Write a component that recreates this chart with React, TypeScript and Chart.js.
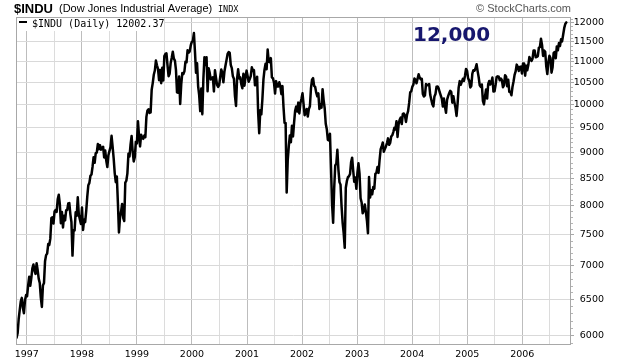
import React, { useEffect, useRef } from "react";
import { Chart, registerables } from "chart.js";

Chart.register(...registerables);

// ---- text ----
const titleSymbol = "$INDU";
const titleName = "(Dow Jones Industrial Average)";
const titleExchange = "INDX";
const legendLabel = "$INDU (Daily) 12002.37";
const copyright = "\u00A9 StockCharts.com";
const annotation = "12,000";

// ---- data: weekly closes (approx.), each year starting at its first week ----
const yearStarts = [
  "1996-10-25", "1997-01-03", "1998-01-02", "1999-01-08", "2000-01-07", "2001-01-05",
  "2002-01-04", "2003-01-03", "2004-01-02", "2005-01-07", "2006-01-06",
];

const w1996 = [5970, 6029, 6220, 6348, 6471, 6522, 6381, 6304, 6484, 6561];
const w1997 = [
  6545, 6704, 6833, 6697, 6813,
  6961, 7022, 6931, 6877,
  7040, 6936, 6805, 6740,
  6526, 6391, 6703, 6738,
  7071, 7169, 7194, 7346, 7331,
  7435, 7782, 7796, 7687,
  7895, 7921, 7890, 8113,
  8194, 8031, 7694, 7887, 7622,
  7822, 7742, 7917, 7922,
  8038, 8045, 7847, 7715, 7161,
  7581, 7572, 7881, 7823,
  8149, 7838, 7757, 7679,
];
const w1998 = [
  7965, 7580, 7753, 7712, 7907,
  8160, 8370, 8413, 8546,
  8570, 8719, 8906, 8796,
  8984, 8994, 9167, 9064,
  9147, 9055, 9096, 9114, 8900,
  9037, 8835, 8712, 8944,
  9025, 9106, 9338, 9116, 8883,
  8598, 8425, 8533, 8052,
  7539, 7795, 7895, 8028,
  7784, 7731, 8416, 8452, 8592,
  8975, 8919, 9160, 9333,
  9016, 8821, 8903, 9217, 9181,
];
const w1999 = [
  9643, 9340, 9120, 9358,
  9304, 9274, 9340, 9307,
  9736, 9876, 9903, 9822,
  9832, 10339, 10493, 10689, 10789,
  11031, 10913, 10829, 10560,
  10799, 10490, 10855, 10552,
  11139, 11193, 11209, 10911, 10655,
  10714, 10973, 11100, 11250,
  11078, 11028, 10803, 10279,
  10273, 10649, 10019, 10470, 10729,
  10704, 10770, 11003, 10988,
  11286, 11224, 11257, 11405, 11497,
];
const w2000 = [
  11522, 11723, 11251, 10739,
  10964, 10425, 10219, 9862,
  10367, 9796, 10596, 11112, 10922,
  11111, 10306, 10844, 10734,
  10578, 10609, 10627, 10300,
  10794, 10614, 10449, 10405, 10448,
  10636, 10813, 10733, 10512,
  10767, 10909, 11047, 11193,
  11238, 11220, 10927, 10847, 10651,
  10596, 10192, 9975, 10590,
  10817, 10603, 10629, 10470,
  10373, 10712, 10434, 10635, 10787,
];
const w2001 = [
  10662, 10525, 10587, 10659,
  10865, 10781, 10799, 10441,
  10466, 10644, 9823, 9389, 9879,
  9791, 10127, 10579, 10810,
  10951, 10821, 11301, 11005,
  10990, 11090, 10623, 10605, 10502,
  10252, 10539, 10416, 10417,
  10512, 10416, 10240, 10423, 9950,
  9606, 9605, 8236, 8848,
  9120, 9345, 9205, 9545,
  9324, 9608, 9867, 9960, 9851,
  10049, 9812, 10035, 10137,
];
const w2002 = [
  10259, 10017, 9772, 9840,
  9908, 9744, 9904, 9968,
  10369, 10572, 10608, 10427, 10404,
  10271, 10191, 10257, 9910,
  10006, 9939, 10353, 10105, 9925,
  9590, 9475, 9254, 9243,
  9380, 8684, 8019, 7702,
  8313, 8745, 8778, 9053, 8664,
  8427, 8380, 7986, 7701,
  7528, 7286, 8322, 8444,
  8518, 8537, 8579, 8805, 8896,
  8646, 8433, 8512, 8303,
];
const w2003 = [
  8601, 8785, 8587, 8131, 8054,
  7864, 7909, 8018, 7891,
  7740, 7524, 8522, 8145,
  8277, 8203, 8337, 8307,
  8582, 8604, 8713, 8601, 8850,
  9062, 9117, 9200, 9011,
  9070, 9119, 9188, 9284,
  9153, 9191, 9321, 9348, 9415,
  9503, 9471, 9644, 9313,
  9572, 9674, 9721, 9582, 9801,
  9810, 9768, 9629, 9782,
  9862, 10042, 10278, 10305,
];
const w2004 = [
  10409, 10458, 10600, 10568, 10488,
  10593, 10700, 10620, 10584,
  10596, 10240, 10186, 10212,
  10470, 10442, 10452, 10472, 10225,
  10117, 10012, 9967, 10188,
  10243, 10410, 10416, 10371,
  10282, 10213, 10140, 9962, 10140,
  9963, 9825, 10110, 10195,
  10260, 10314, 10285, 10048,
  10193, 10055, 9933, 9758, 10027,
  10387, 10539, 10456, 10522,
  10592, 10543, 10661, 10827, 10783,
];
const w2005 = [
  10603, 10558, 10393, 10427,
  10716, 10796, 10785, 10841,
  10940, 10774, 10629, 10442,
  10404, 10461, 10088, 10012, 10193,
  10345, 10140, 10471, 10542,
  10460, 10513, 10623, 10297,
  10303, 10449, 10640, 10651, 10641,
  10558, 10600, 10559, 10397,
  10447, 10678, 10641, 10419, 10569,
  10292, 10287, 10215, 10403,
  10530, 10686, 10766, 10931,
  10878, 10779, 10875, 10884, 10718,
];
const w2006 = [
  10959, 10959, 10667, 10907,
  10794, 10920, 11115, 11061,
  11022, 11076, 11280, 11280, 11109,
  11121, 11137, 11347, 11367,
  11578, 11420, 11144, 11278,
  11247, 10891, 10706, 10990, 11150,
  11091, 10739, 10869, 11219,
  11240, 11088, 11381, 11284,
  11464, 11392, 11560, 11508, 11679,
  11850, 11960, 12002,
];
const weeklyByYear = [w1996, w1997, w1998, w1999, w2000, w2001, w2002, w2003, w2004, w2005, w2006];

// ---- axes ----
const yTicks = [6000, 6500, 7000, 7500, 8000, 8500, 9000, 9500, 10000, 10500, 11000, 11500, 12000];
const xTicks = [
  1997, 1997.5, 1998, 1998.5, 1999, 1999.5, 2000, 2000.5, 2001, 2001.5,
  2002, 2002.5, 2003, 2003.5, 2004, 2004.5, 2005, 2005.5, 2006, 2006.5,
];
const xMin = 1996.804;
const xMax = 2006.885;
const yMin = 5875;
const yMax = 12147;

function toDecimalYear(iso: string, addDays: number): number {
  const [y, m, d] = iso.split("-").map(Number);
  const t = Date.UTC(y, m - 1, d) + addDays * 86400000;
  const yr = new Date(t).getUTCFullYear();
  const s = Date.UTC(yr, 0, 1);
  const e = Date.UTC(yr + 1, 0, 1);
  return yr + (t - s) / (e - s);
}

const points = weeklyByYear.flatMap((arr, k) =>
  arr.map((v, i) => ({ x: toDecimalYear(yearStarts[k], i * 7), y: v }))
);

const decorPlugin = {
  id: "decor",
  beforeDraw(chart: any) {
    const { ctx, width, height } = chart;
    ctx.save();
    ctx.fillStyle = "#ffffff";
    ctx.fillRect(0, 0, width, height);
    ctx.restore();
  },
  afterDraw(chart: any) {
    const { ctx, chartArea: a } = chart;
    const yScale = chart.scales.y;
    ctx.save();
    // minor ticks on the right axis
    ctx.strokeStyle = "#b4b4b4";
    ctx.lineWidth = 1;
    for (let v = 5900; v <= 12100; v += 100) {
      if (v % 500 === 0) continue;
      const py = Math.round(yScale.getPixelForValue(v)) + 0.5;
      if (py < a.top || py > a.bottom) continue;
      ctx.beginPath();
      ctx.moveTo(a.right, py);
      ctx.lineTo(a.right + 2, py);
      ctx.stroke();
    }
    // plot border
    ctx.strokeStyle = "#a8a8a8";
    ctx.strokeRect(a.left + 0.5, a.top + 0.5, a.right - a.left - 1, a.bottom - a.top - 1);

    // legend box
    ctx.fillStyle = "#ffffff";
    ctx.fillRect(a.left + 1, a.top + 1, 147, 13);
    ctx.fillStyle = "#000000";
    ctx.fillRect(19, 21, 8, 2);
    ctx.font = "10px 'DejaVu Sans Mono'";
    ctx.textBaseline = "alphabetic";
    ctx.textAlign = "left";
    ctx.fillText(legendLabel, 32, 26.5);

    // title
    ctx.font = "bold 13px 'Liberation Sans'";
    ctx.fillText(titleSymbol, 14, 12.5);
    ctx.font = "11px 'Liberation Sans'";
    ctx.fillText(titleName, 59, 12);
    ctx.font = "8.5px 'DejaVu Sans Mono'";
    ctx.fillText(titleExchange, 218, 11.5);

    // copyright
    ctx.fillStyle = "#555555";
    ctx.font = "11px 'Liberation Sans'";
    ctx.textAlign = "right";
    ctx.fillText(copyright, 571, 11.5);

    // annotation
    ctx.fillStyle = "#17176e";
    ctx.font = "bold 20px 'DejaVu Sans'";
    ctx.textAlign = "left";
    ctx.fillText(annotation, 413, 41);
    ctx.restore();
  },
};

export default function App() {
  const canvasRef = useRef<HTMLCanvasElement | null>(null);

  useEffect(() => {
    const canvas = canvasRef.current;
    if (!canvas) return;
    const chart = new Chart(canvas, {
      type: "line",
      data: {
        datasets: [
          {
            label: legendLabel,
            data: points,
            borderColor: "#000000",
            borderWidth: 2.5,
            borderJoinStyle: "round",
            borderCapStyle: "round",
            pointRadius: 0,
            tension: 0,
            fill: false,
          },
        ],
      },
      options: {
        animation: false,
        responsive: false,
        parsing: false,
        layout: { padding: { left: 16, top: 17, right: 16, bottom: 0 } },
        plugins: {
          legend: { display: false },
          tooltip: { enabled: false },
          title: { display: false },
        },
        scales: {
          x: {
            type: "linear",
            min: xMin,
            max: xMax,
            afterBuildTicks: (s: any) => {
              s.ticks = xTicks.map((v) => ({ value: v }));
            },
            afterFit: (s: any) => {
              s.height = 17;
            },
            border: { display: false },
            grid: {
              drawTicks: false,
              lineWidth: 1,
              color: (ctx: any) =>
                ctx.tick && Number.isInteger(ctx.tick.value) ? "#bdbdbd" : "#dcdcdc",
            },
            ticks: {
              autoSkip: false,
              maxRotation: 0,
              padding: 4,
              color: "#000000",
              font: { family: "'DejaVu Sans'", size: 9.5 },
              callback: (v: any) => (Number.isInteger(v) ? String(v) : ""),
            },
          },
          y: {
            type: "logarithmic",
            position: "right",
            min: yMin,
            max: yMax,
            afterBuildTicks: (s: any) => {
              s.ticks = yTicks.map((v) => ({ value: v }));
            },
            afterFit: (s: any) => {
              s.width = 33;
            },
            border: { display: false },
            grid: {
              color: "#d9d9d9",
              lineWidth: 1,
              drawTicks: true,
              tickLength: 3,
              tickColor: "#a8a8a8",
            },
            ticks: {
              crossAlign: "far",
              padding: 3,
              color: "#000000",
              font: { family: "'DejaVu Sans'", size: 9.5 },
              callback: (v: any) => String(v),
            },
          },
        },
      },
      plugins: [decorPlugin],
    } as any);
    return () => chart.destroy();
  }, []);

  return (
    <div style={{ position: "absolute", left: 0, top: 0, width: 620, height: 362 }}>
      <canvas ref={canvasRef} width={620} height={362} style={{ display: "block" }} />
    </div>
  );
}
